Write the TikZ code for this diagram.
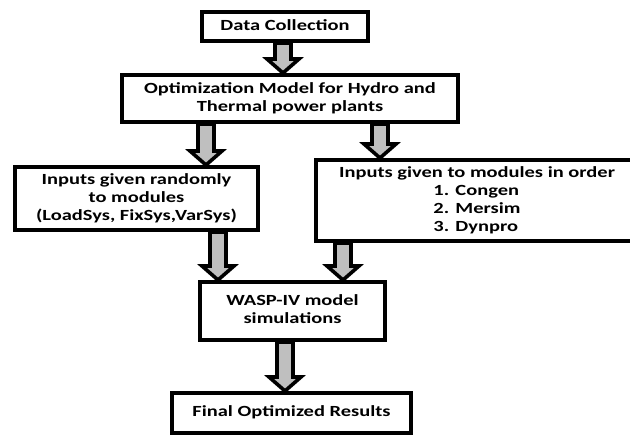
\documentclass[tikz,border=0pt]{standalone}
\usepackage{fontspec}
\usepackage{graphicx}
\setmainfont{Carlito}
\usetikzlibrary{calc}

% text of a box, a little wider than set
\newcommand{\wtext}[1]{\scalebox{1.32}[1]{\begin{tabular}{@{}c@{}}#1\end{tabular}}}
% grey block arrow from one box down to the next, at x = #3
\newcommand{\blockarrow}[3]{%
	\draw[blockarr] let \p1=(#1), \p2=(#2), \p3=(#3,0) in
		(\x3-4pt,\y1) -- (\x3-4pt,\y2+7pt) -- (\x3-8pt,\y2+7pt) -- (\x3,\y2)
		-- (\x3+8pt,\y2+7pt) -- (\x3+4pt,\y2+7pt) -- (\x3+4pt,\y1) -- cycle;}

\tikzset{
	box/.style={draw, line width=2.2pt, fill=white, inner sep=0pt,
		font=\fontsize{7.75}{9}\selectfont\bfseries},
	blockarr/.style={draw, line width=1.8pt, fill=gray!50}
}

\begin{document}
\begin{tikzpicture}[x=0.5pt,y=-0.5pt]
	\clip (0,0) rectangle (630,437);
	\node[box, minimum width=82.8pt, minimum height=14.3pt] (dc) at (285,26.5) {\wtext{Data Collection}};
	\node[box, minimum width=167.8pt, minimum height=23.3pt] (opt) at (290,98.5) {\wtext{Optimization Model for Hydro and\\Thermal power plants}};
	\node[box, minimum width=121.3pt, minimum height=31.3pt] (left) at (136.5,198.5) {\wtext{Inputs given randomly\\to modules\\(LoadSys, FixSys,VarSys)}};
	\node[box, minimum width=160.8pt, minimum height=40.3pt] (right) at (477,200.5) {\wtext{Inputs given to modules in order\\\begin{tabular}{@{}l@{}}1. Congen\\2. Mersim\\3. Dynpro\end{tabular}}};
	\node[box, minimum width=92.3pt, minimum height=28.8pt] (wasp) at (292.5,311) {\wtext{WASP-IV model\\simulations}};
	\node[box, minimum width=119.3pt, minimum height=19.8pt] (final) at (291.5,413) {\wtext{Final Optimized Results}};
	\blockarrow{dc.south}{opt.north}{283}
	\blockarrow{opt.south}{left.north}{206}
	\blockarrow{opt.south}{right.north}{380}
	\blockarrow{left.south}{wasp.north}{218}
	\blockarrow{right.south}{wasp.north}{343}
	\blockarrow{wasp.south}{final.north}{285}
\end{tikzpicture}
\end{document}
